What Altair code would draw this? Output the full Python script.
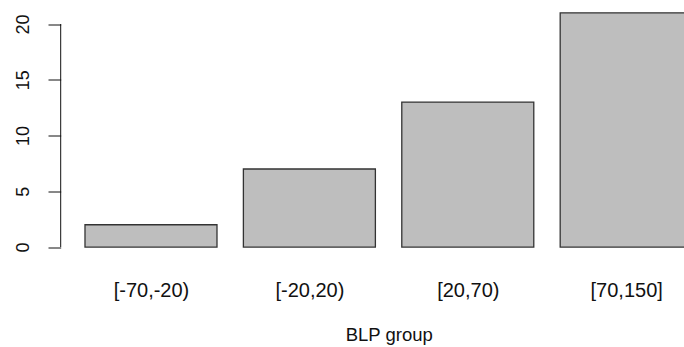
import altair as alt
import pandas as pd

# BLP group counts
groups = ["[-70,-20)", "[-20,20)", "[20,70)", "[70,150]"]
counts = [2, 7, 13, 21]
y_ticks = [0, 5, 10, 15, 20]

df = pd.DataFrame({"group": groups, "count": counts})

# barplot layout: bar width 1, gap 0.2 (in x units)
BAR_W, SPACE = 1.0, 0.2
centers = [round(SPACE + i * (BAR_W + SPACE) + BAR_W / 2, 2) for i in range(len(groups))]
label_expr = "{" + ",".join(f"'{c}':'{g}'" for c, g in zip(centers, groups)) + "}"

FONT = "Liberation Sans"
x_scale = alt.Scale(domain=[0.016, 4.738], nice=False, zero=False)
y_scale = alt.Scale(domain=[-0.84, 21.84], nice=False, zero=False)

base = alt.Chart(df).transform_window(
    idx="row_number()"
).transform_calculate(
    x0=f"{SPACE} + (datum.idx - 1) * {BAR_W + SPACE}",
    x1=f"{SPACE} + (datum.idx - 1) * {BAR_W + SPACE} + {BAR_W}",
)

bars = base.mark_bar(
    fill="#bebebe", stroke="#333333", strokeWidth=1.3
).encode(
    x=alt.X(
        "x0:Q",
        scale=x_scale,
        axis=alt.Axis(
            values=centers,
            labelExpr=f"{label_expr}[toString(datum.value)]",
            domain=False,
            ticks=False,
            grid=False,
            labelFont=FONT,
            labelFontSize=20,
            labelColor="#111111",
            labelBaseline="alphabetic",
            labelPadding=40,
            labelOverlap=False,
            labelFlush=False,
            title="BLP group",
            titleFont=FONT,
            titleFontSize=18.5,
            titleFontWeight="normal",
            titleColor="#111111",
            titleBaseline="alphabetic",
            titleAlign="center",
            titleX=328,
            titleY=83.6,
        ),
    ),
    x2="x1:Q",
    y=alt.Y(
        "count:Q",
        scale=y_scale,
        axis=alt.Axis(
            values=y_ticks,
            domain=False,
            grid=False,
            tickSize=12.7,
            tickColor="#111111",
            tickWidth=1,
            labelAngle=270,
            labelAlign="center",
            labelBaseline="alphabetic",
            labelPadding=19.7,
            labelFont=FONT,
            labelFontSize=18,
            labelColor="#111111",
            title=None,
        ),
    ),
    y2=alt.datum(0),
)

# axis line spans the tick range only
axis_line = alt.Chart(pd.DataFrame({"lo": [y_ticks[0]], "hi": [y_ticks[-1]]})).mark_rule(
    color="#111111", strokeWidth=1
).encode(
    x=alt.value(0),
    y=alt.Y("lo:Q", scale=y_scale),
    y2="hi:Q",
)

chart = alt.layer(bars, axis_line).properties(
    width=623.3,
    height=252.9,
    autosize=alt.AutoSizeParams(type="none"),
    padding={"left": 60.7, "top": 3.5, "right": 0, "bottom": 90.6},
    background="white",
).configure_view(stroke=None)

chart.save("out.html", embed_options={"renderer": "svg", "actions": False})
